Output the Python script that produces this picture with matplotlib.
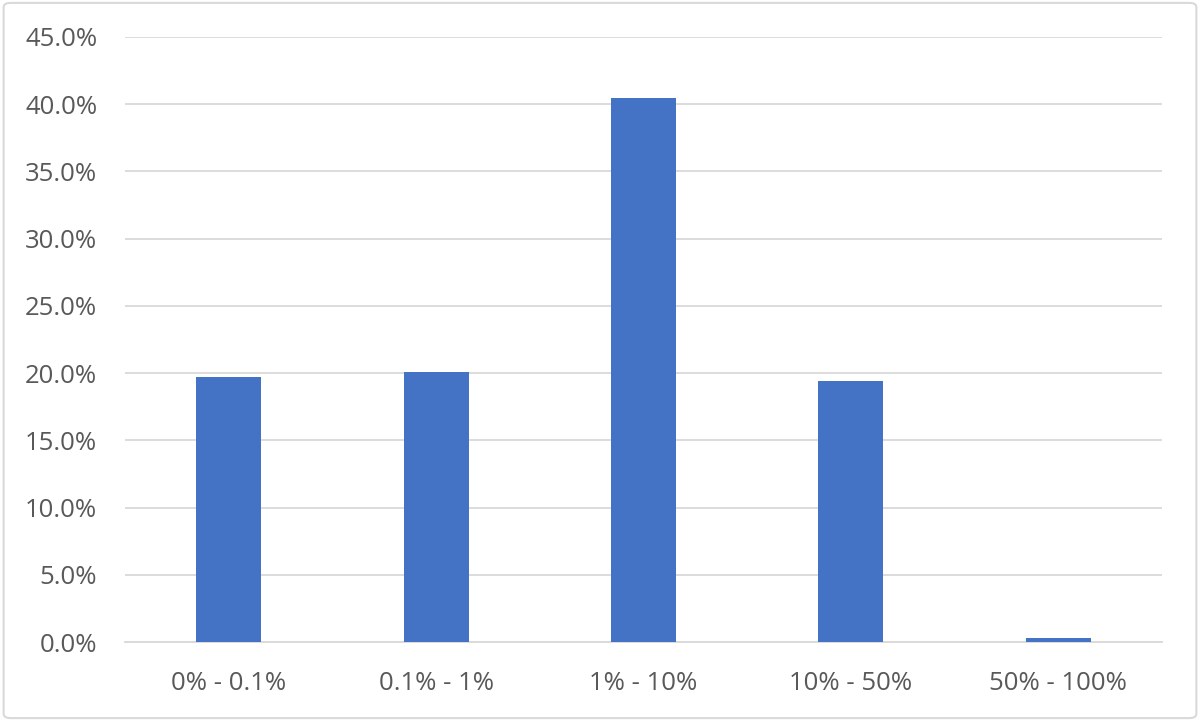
import matplotlib.pyplot as plt
from matplotlib.patches import FancyBboxPatch
from matplotlib.ticker import PercentFormatter

categories = ['0% - 0.1%', '0.1% - 1%', '1% - 10%', '10% - 50%', '50% - 100%']
shares = [19.7, 20.1, 40.5, 19.4, 0.3]

plt.rcParams['font.family'] = ['Open Sans', 'DejaVu Sans']

fig = plt.figure(figsize=(12, 7.21), dpi=100)
ax = fig.add_axes([125 / 1200, 79 / 721, 1037 / 1200, 605 / 721])

x = range(len(categories))
ax.bar(x, shares, width=0.313, color='#4472C4', zorder=3)

ax.set_xlim(-0.5, len(categories) - 0.5)
ax.set_ylim(0, 45)
ax.set_yticks([i * 5 for i in range(10)])
ax.yaxis.set_major_formatter(PercentFormatter(decimals=1))
ax.set_xticks(list(x))
ax.set_xticklabels(categories)

ax.grid(axis='y', color='#D9D9D9', linewidth=1.3, zorder=0)
for side in ['top', 'right', 'left']:
    ax.spines[side].set_visible(False)
ax.spines['bottom'].set_color('#D9D9D9')
ax.spines['bottom'].set_linewidth(1.3)
ax.tick_params(axis='both', length=0, labelsize=18.5, colors='#595959')
ax.tick_params(axis='y', pad=20)
ax.tick_params(axis='x', pad=21)

# grey frame round the whole chart
frame = FancyBboxPatch((0.003, 0.004), 0.994, 0.992, boxstyle='round,pad=0,rounding_size=0.006',
                       transform=fig.transFigure, facecolor='none', edgecolor='#D9D9D9',
                       linewidth=1.5)
fig.patches.append(frame)

fig.savefig('out.png', dpi=100)
